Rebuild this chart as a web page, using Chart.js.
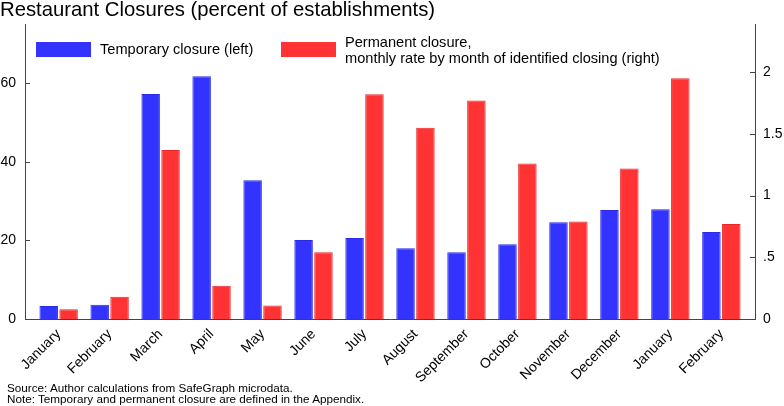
<!DOCTYPE html>
<html>
<head>
<meta charset="utf-8">
<script src="https://cdn.jsdelivr.net/npm/chart.js@4.4.1/dist/chart.umd.min.js"></script>
<style>
  html, body { margin: 0; padding: 0; background: #fff; }
  #wrap { position: relative; width: 784px; height: 406px; font-family: "Liberation Sans", Arial, sans-serif; color: #000; }
  #chart { position: absolute; left: 0; top: 0; }
  .title { position: absolute; left: 0; top: -2px; font-size: 20.3px; white-space: nowrap; }
  .note { position: absolute; left: 7px; font-size: 11.7px; line-height: 11px; top: 382px; white-space: nowrap; }
  .sw { position: absolute; top: 42px; width: 55px; height: 15px; }
  .lt { position: absolute; font-size: 14.6px; line-height: 16px; white-space: nowrap; }
</style>
</head>
<body>
<div id="wrap">
  <canvas id="chart" width="784" height="406"></canvas>
  <div class="title">Restaurant Closures (percent of establishments)</div>
  <div class="sw" style="left:36px;background:#3333ff"></div>
  <div class="lt" style="left:100px;top:41px">Temporary closure (left)</div>
  <div class="sw" style="left:281px;background:#ff3333"></div>
  <div class="lt" style="left:345px;top:34px">Permanent closure,<br>monthly rate by month of identified closing (right)</div>
  <div class="note">Source: Author calculations from SafeGraph microdata.<br>Note: Temporary and permanent closure are defined in the Appendix.</div>
</div>
<script>
const months = ["January", "February", "March", "April", "May", "June", "July", "August",
  "September", "October", "November", "December", "January", "February"];
const temporary = [3.3, 3.6, 57.2, 61.7, 35.3, 20.1, 20.6, 18.0, 17.0, 19.0, 24.6, 27.7, 27.9, 22.1];
const permanent = [0.08, 0.18, 1.37, 0.27, 0.11, 0.54, 1.82, 1.55, 1.77, 1.26, 0.79, 1.22, 1.95, 0.77];
const leftTicks = [0, 20, 40, 60];
const rightTicks = [0, 0.5, 1, 1.5, 2];
const rightTickLabels = ["0", ".5", "1", "1.5", "2"];

const font = { family: "'Liberation Sans', Arial, sans-serif", size: 14 };

// small tick marks pointing into the plot
const innerTicks = {
  id: "innerTicks",
  afterDraw(chart) {
    const ctx = chart.ctx;
    const area = chart.chartArea;
    ctx.save();
    ctx.strokeStyle = "#444";
    ctx.lineWidth = 1;
    ctx.beginPath();
    chart.scales.y.ticks.forEach((t) => {
      const py = Math.round(chart.scales.y.getPixelForValue(t.value)) + 0.5;
      ctx.moveTo(area.left, py);
      ctx.lineTo(area.left + 5, py);
    });
    chart.scales.y1.ticks.forEach((t) => {
      const py = Math.round(chart.scales.y1.getPixelForValue(t.value)) + 0.5;
      ctx.moveTo(area.right, py);
      ctx.lineTo(area.right - 5, py);
    });
    ctx.stroke();
    ctx.restore();
  },
};

new Chart(document.getElementById("chart"), {
  type: "bar",
  data: {
    datasets: [
      {
        label: "Temporary closure (left)",
        data: temporary.map((v, i) => ({ x: i, y: v })),
        backgroundColor: "#3333ff",
        borderColor: "#2a2ae6",
        borderWidth: 1,
        yAxisID: "y",
      },
      {
        label: "Permanent closure, monthly rate by month of identified closing (right)",
        data: permanent.map((v, i) => ({ x: i, y: v })),
        backgroundColor: "#ff3333",
        borderColor: "#e62a2a",
        borderWidth: 1,
        yAxisID: "y1",
      },
    ],
  },
  options: {
    responsive: false,
    animation: false,
    categoryPercentage: 0.78,
    barPercentage: 0.93,
    layout: { padding: { top: 24, left: 0, right: 0, bottom: 0 } },
    plugins: { legend: { display: false }, tooltip: { enabled: false } },
    scales: {
      x: {
        type: "linear",
        offset: false,
        min: -0.66,
        max: 13.66,
        afterBuildTicks: (s) => { s.ticks = months.map((m, i) => ({ value: i })); },
        afterFit: (s) => {
          s.height = 87;
          s.paddingLeft = 0;
          s.paddingRight = 0;
        },
        grid: { display: false, drawTicks: false, offset: false },
        border: { display: true, color: "#444", width: 1 },
        ticks: {
          autoSkip: false,
          minRotation: 45,
          maxRotation: 45,
          padding: 7,
          color: "#000",
          font,
          callback: (v) => months[v],
        },
      },
      y: {
        position: "left",
        min: 0,
        max: 75,
        afterBuildTicks: (s) => { s.ticks = leftTicks.map((v) => ({ value: v })); },
        afterFit: (s) => { s.width = 25; },
        grid: { display: false, drawTicks: false },
        border: { display: true, color: "#444", width: 1 },
        ticks: { padding: 9, color: "#000", font },
      },
      y1: {
        position: "right",
        min: 0,
        max: 2.39,
        afterBuildTicks: (s) => { s.ticks = rightTicks.map((v) => ({ value: v })); },
        afterFit: (s) => { s.width = 29; },
        grid: { display: false, drawTicks: false },
        border: { display: true, color: "#444", width: 1 },
        ticks: {
          padding: 8,
          color: "#000",
          font,
          callback: (v) => rightTickLabels[rightTicks.indexOf(v)],
        },
      },
    },
  },
  plugins: [innerTicks],
});
</script>
</body>
</html>
